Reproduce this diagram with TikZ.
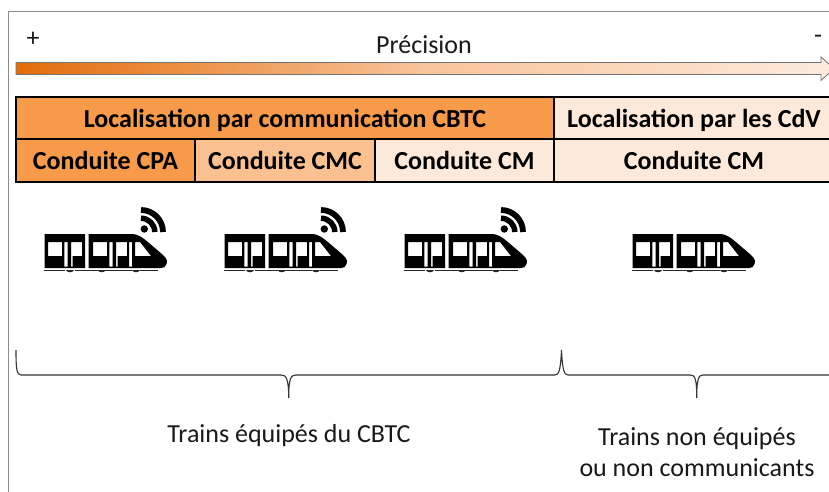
\documentclass[tikz,border=0pt]{standalone}
\usepackage{fontspec}
\setmainfont{Carlito}
\definecolor{frameg}{HTML}{8C8C8C}
\definecolor{arrowl}{HTML}{E36C0A}
\definecolor{arrowm}{HTML}{F8C49A}
\definecolor{arrowr}{HTML}{FDEBDD}
\definecolor{ordark}{HTML}{F79A4A}
\definecolor{ormid}{HTML}{FAC090}
\definecolor{orpale}{HTML}{FDE9D9}
\tikzset{
  cell/.style={draw=black,line width=1.1pt,inner sep=0pt,outer sep=0pt,anchor=north west,align=center,text height=20pt,text depth=1.5pt,font=\fontsize{26}{30}\selectfont\bfseries,text=black},
  plain/.style={inner sep=0pt,outer sep=0pt,font=\fontsize{26}{31}\selectfont,text=black!90,align=center},
  bracket/.style={draw=black!80,line width=1.1pt},
  trainbody/.pic={
    \fill[black,even odd rule]
      (44.7,234) rectangle (85,268)
      (48,242) rectangle (62,256)
      (64.3,242) rectangle (67.5,266.5)
      (71,242) -- (82,242) -- (82,256) -- (72.7,256) -- (72.7,266.5) -- (71,266.5) -- cycle
      (88.7,234) -- (131,234) .. controls (139,234) and (143,238) .. (149,243)
        -- (163,255) .. controls (167,258.5) and (168,262) .. (166,265)
        .. controls (165,267) and (164,268) .. (161,268) -- (88.7,268) -- cycle
      (93,242) rectangle (107,256)
      (109.3,242) rectangle (112.5,266.5)
      (116,242) -- (127,242) -- (127,256) -- (117.7,256) -- (117.7,266.5) -- (116,266.5) -- cycle
      (129,242) rectangle (132.2,266.5)
      (135,242) -- (140,242) -- (151,256) -- (135,256) -- cycle;
    \foreach \a/\b in {44/65,75/98,105/132,140/158}
      \fill[black!85] (\a,270) rectangle (\b,271.4);
    \foreach \w in {70,101.7,136}
      \fill[black!85] (\w-4,270) -- (\w+4,270) .. controls (\w+3,273) and (\w-3,273) .. (\w-4,270) -- cycle;
  },
  wifisign/.pic={
    \fill[black] (144.3,229) circle[radius=3.7];
    \draw[black,line width=5.5pt] (141,218.2) .. controls (148.6,218.2) and (154.8,224.4) .. (154.8,232);
    \draw[black,line width=5.8pt] (141,210) .. controls (153.2,210) and (163,219.8) .. (163,232);
  }
}
\begin{document}
\begin{tikzpicture}[x=1pt,y=-1pt]
\useasboundingbox (0,0) rectangle (829,492);
\fill[white] (0,0) rectangle (829,492);
% frame
\draw[frameg,line width=1pt] (8.5,492) -- (8.5,12) -- (829,12);
% precision arrow
\begin{scope}
\clip (0,0) rectangle (829,492);
\path[left color=arrowl,right color=arrowr,middle color=arrowm,draw=black!55,line width=.8pt,shading angle=90]
  (16,62.5) -- (821,62.5) -- (821,57) -- (834,68.5) -- (821,80.5) -- (821,74.5) -- (16,74.5) -- cycle;
\end{scope}
\node[plain] (plus) at (33,39) {+};
\node[plain] (prec) at (424,44.5) {Précision};
\node[plain] (minus) at (818,39.5) {-};
% table
\node[cell,fill=ordark,minimum width=538pt,minimum height=42pt] (loc1) at (16,97) {Localisation par communication CBTC};
\node[cell,fill=orpale,minimum width=280pt,minimum height=42pt] (loc2) at (554,97) {Localisation par les CdV};
\node[cell,fill=ordark,minimum width=179pt,minimum height=43pt] (cpa) at (16,139) {Conduite CPA};
\node[cell,fill=ormid,minimum width=180pt,minimum height=43pt] (cmc) at (195,139) {Conduite CMC};
\node[cell,fill=orpale,minimum width=179pt,minimum height=43pt] (cm1) at (375,139) {Conduite CM};
\node[cell,fill=orpale,minimum width=280pt,minimum height=43pt] (cm2) at (554,139) {Conduite CM};
% trains
\pic at (0,0) {trainbody};   \pic at (0,0) {wifisign};
\pic at (180,0) {trainbody}; \pic at (180,0) {wifisign};
\pic at (360,0) {trainbody}; \pic at (360,0) {wifisign};
\pic at (588,0) {trainbody};
% braces
\coordinate (b0) at (16,350);
\coordinate (t1) at (288.7,398);
\coordinate (pk) at (561.5,350);
\coordinate (t2) at (696.7,398);
\coordinate (bE) at (829,375);
\draw[bracket] (b0) .. controls (16,368) and (16.5,375) .. (21,375)
  -- (281,375) .. controls (286,375) and (288.7,378) .. (t1)
  .. controls (288.7,378) and (291,375) .. (296,375)
  -- (555,375) .. controls (559,375) and (560.5,370) .. (pk)
  .. controls (562.5,370) and (564,375) .. (568,375)
  -- (690,375) .. controls (695,375) and (696.7,378) .. (t2)
  .. controls (696.7,378) and (699,375) .. (703,375) -- (bE);
\node[plain] (lab1) at (289,436) {Trains équipés du CBTC};
\node[plain] (lab2) at (697,452.5) {Trains non équipés\\ou non communicants};
\end{tikzpicture}
\end{document}
